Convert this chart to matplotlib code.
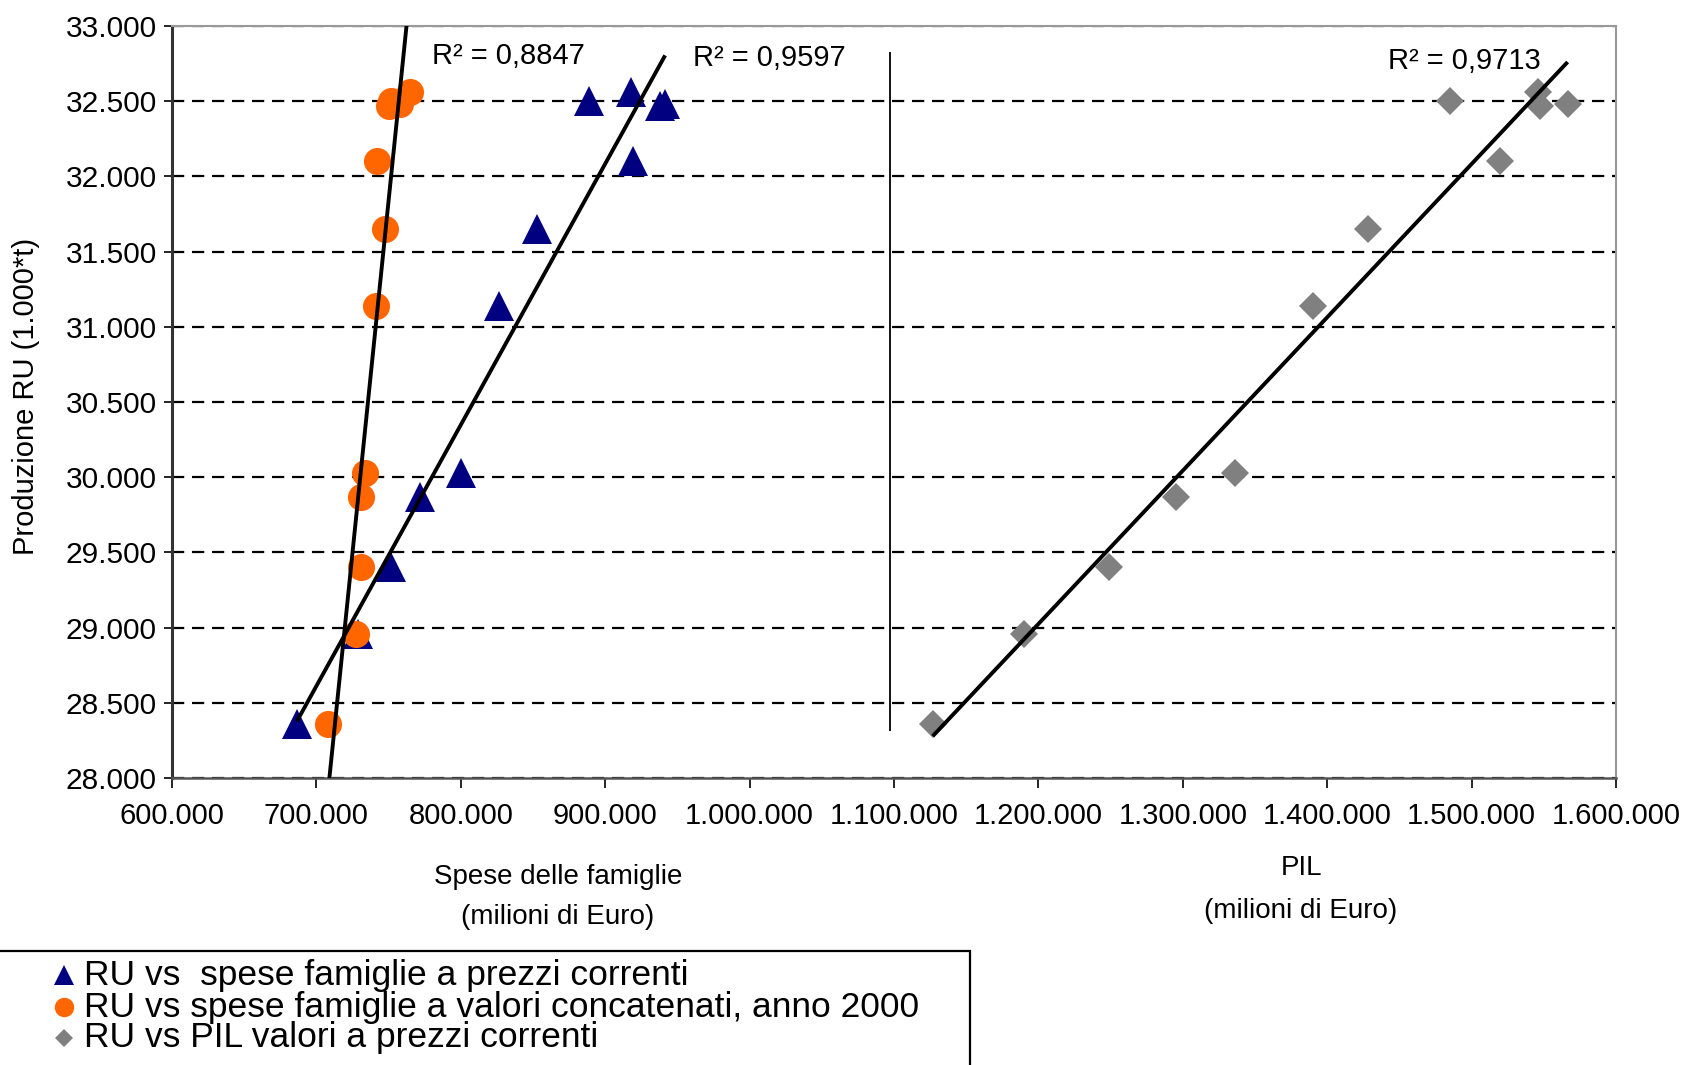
import numpy as np
import matplotlib
matplotlib.use("Agg")
import matplotlib.pyplot as plt
from matplotlib.lines import Line2D
from matplotlib.patches import Rectangle
from matplotlib.ticker import FuncFormatter, MultipleLocator

plt.rcParams["font.family"] = ["Liberation Sans", "DejaVu Sans"]

# Produzione RU (migliaia di t) and the three economic indicators (migliaia di Euro)
produzione_ru = [28360, 28960, 29400, 29870, 30030, 31140, 31650, 32100, 32500, 32560, 32470, 32480]
spese_correnti = [686500, 729000, 751500, 771900, 800100, 826200, 853000, 919200, 888700, 917700, 937800, 941500]
spese_concatenati = [708000, 727600, 731000, 731000, 733700, 741400, 747600, 742000, 752000, 765000, 750000, 758000]
pil_correnti = [1126800, 1190000, 1248800, 1295000, 1335900, 1390200, 1428100, 1519600, 1484700, 1545700, 1547200, 1566500]

r2_labels = ["R² = 0,9597", "R² = 0,8847", "R² = 0,9713"]
legend_labels = [
    "RU vs  spese famiglie a prezzi correnti",
    "RU vs spese famiglie a valori concatenati, anno 2000",
    "RU vs PIL valori a prezzi correnti",
]

W, H = 1685, 1065
fig = plt.figure(figsize=(W / 100, H / 100), dpi=100)
ax = fig.add_axes([172 / W, (H - 778) / H, (1616 - 172) / W, (778 - 26) / H])

y = np.array(produzione_ru, dtype=float)
series = [
    (spese_correnti, "^", "#000080", 21),
    (spese_concatenati, "o", "#FF6600", 19.5),
    (pil_correnti, "D", "#808080", 14.5),
]

for xs, marker, color, ms in series:
    ax.plot(xs, y, linestyle="none", marker=marker, color=color, ms=ms,
            markeredgewidth=0, zorder=3)

# linear trendlines over each series' x range
for xs, *_ in series:
    x = np.array(xs, dtype=float)
    k, q = np.polyfit(x, y, 1)
    xx = np.array([x.min(), x.max()])
    ax.plot(xx, k * xx + q, color="black", lw=2.8, zorder=4, solid_capstyle="butt")

# separator between the two groups
ax.vlines(1097000, 28310, 32830, color="black", lw=1.3, zorder=2)

ax.text(780000, 32800, r2_labels[1], fontsize=21, va="center", ha="left")
ax.text(960800, 32787, r2_labels[0], fontsize=21, va="center", ha="left")
ax.text(1442000, 32767, r2_labels[2], fontsize=21, va="center", ha="left")

ax.set_xlim(600000, 1600000)
ax.set_ylim(28000, 33000)
ax.xaxis.set_major_locator(MultipleLocator(100000))
ax.yaxis.set_major_locator(MultipleLocator(500))
fmt = FuncFormatter(lambda v, p: f"{int(round(v)):,}".replace(",", "."))
ax.xaxis.set_major_formatter(fmt)
ax.yaxis.set_major_formatter(fmt)

ax.grid(axis="y", color="black", linestyle=(0, (5.5, 3.5)), lw=1.6)
ax.set_axisbelow(True)
ax.tick_params(axis="x", direction="out", length=7, width=1.2, labelsize=21, pad=10)
ax.tick_params(axis="y", direction="inout", length=12, width=1.2, labelsize=21.5, pad=5)
for side in ("top", "right"):
    ax.spines[side].set_color("#999999")
    ax.spines[side].set_linewidth(1.5)
ax.spines["left"].set_color("#333333")
ax.spines["left"].set_linewidth(2.2)
ax.spines["bottom"].set_color("#555555")
ax.spines["bottom"].set_linewidth(1.8)

fig.text(26 / W, 1 - 396 / H, "Produzione RU (1.000*t)", rotation=90,
         fontsize=21, ha="center", va="center")
fig.text(558 / W, 1 - 877 / H, "Spese delle famiglie", fontsize=20, ha="center", va="center")
fig.text(558 / W, 1 - 917 / H, "(milioni di Euro)", fontsize=20, ha="center", va="center")
fig.text(1301 / W, 1 - 868 / H, "PIL", fontsize=20, ha="center", va="center")
fig.text(1301 / W, 1 - 911 / H, "(milioni di Euro)", fontsize=20, ha="center", va="center")

# legend box, running off the bottom-left of the figure
fig.patches.append(Rectangle((-5 / W, -5 / H), 975 / W, 119 / H, transform=fig.transFigure,
                             fill=False, edgecolor="black", lw=1.6, clip_on=False))
legend_rows = [975, 1007, 1038]
legend_ms = [15, 14, 9.5]
for (xs, marker, color, _), lab, ry, lms in zip(series, legend_labels, legend_rows, legend_ms):
    fig.add_artist(Line2D([64 / W], [1 - ry / H], transform=fig.transFigure, marker=marker,
                          color=color, ms=lms, markeredgewidth=0, linestyle="none"))
    fig.text(84 / W, 1 - ry / H, lab, fontsize=25.5, ha="left", va="center")

fig.savefig("out.png", dpi=100)
